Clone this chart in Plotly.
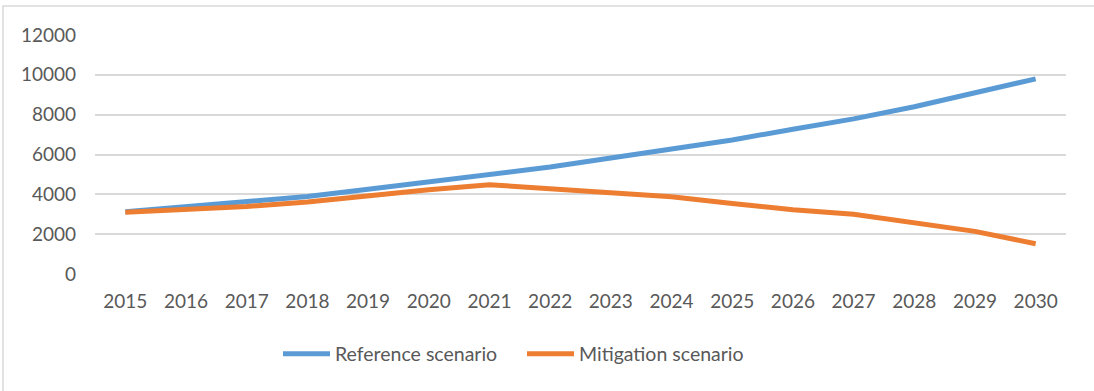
import plotly.graph_objects as go

years = [str(y) for y in range(2015, 2031)]
reference = [3130, 3390, 3600, 3890, 4250, 4610, 4980, 5370, 5820, 6250,
             6730, 7270, 7790, 8400, 9070, 9800]
mitigation = [3100, 3220, 3390, 3610, 3950, 4230, 4480, 4280, 4090, 3880,
              3540, 3230, 3000, 2560, 2140, 1520]
y_ticks = [0, 2000, 4000, 6000, 8000, 10000, 12000]

text_color = "#595959"
grid_color = "#D9D9D9"
font_family = "Lato"

fig = go.Figure()
fig.add_trace(go.Scatter(x=years, y=reference, mode="lines", name="Reference scenario",
                         line=dict(color="#5B9BD5", width=5)))
fig.add_trace(go.Scatter(x=years, y=mitigation, mode="lines", name="Mitigation scenario",
                         line=dict(color="#ED7D31", width=5)))

fig.update_layout(
    width=1094, height=391,
    margin=dict(l=95, r=28, t=35, b=117),
    paper_bgcolor="white", plot_bgcolor="white",
    font=dict(family=font_family, size=19, color=text_color),
    showlegend=True,
    legend=dict(orientation="h", x=(278 - 95) / 971, xanchor="left", y=-0.335,
                yanchor="middle", font=dict(size=19.5, color=text_color),
                itemwidth=47, entrywidth=182, entrywidthmode="pixels",
                tracegroupgap=0),
    xaxis=dict(type="category", range=[-0.5, 15.5], showgrid=False, zeroline=False,
               showline=False, ticks="", ticklabelstandoff=14, tickfont=dict(size=19)),
    yaxis=dict(range=[0, 12000], tickvals=y_ticks, ticktext=[str(v) for v in y_ticks],
               showgrid=True, gridcolor=grid_color, gridwidth=2, zeroline=False,
               showline=False, ticks="", ticklabelstandoff=18, tickfont=dict(size=19)),
    shapes=[dict(type="rect", xref="paper", yref="paper",
                 x0=-92 / 971, x1=1.1, y0=-0.6, y1=1 + 29 / 239,
                 line=dict(color=grid_color, width=1.5), layer="below")],
)

fig.write_html("out.html")
